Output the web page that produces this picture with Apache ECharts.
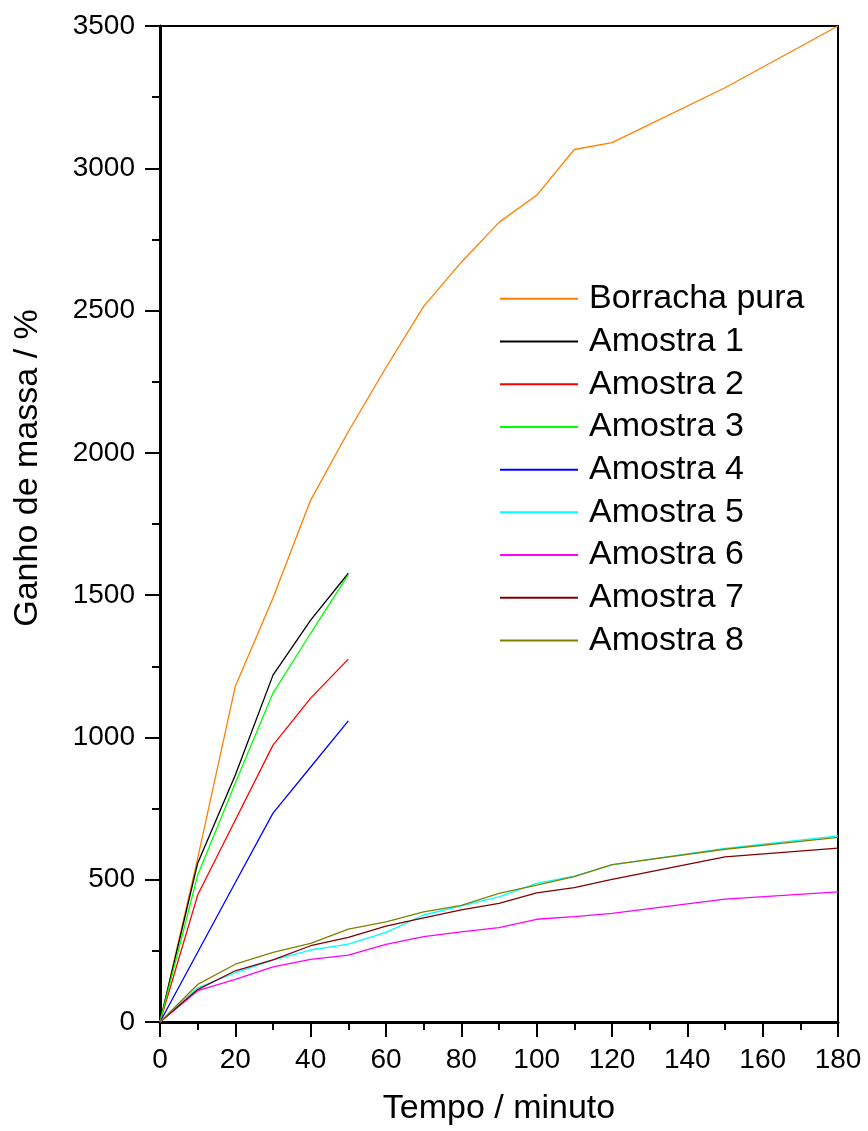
<!DOCTYPE html>
<html><head><meta charset="utf-8">
<script src="https://cdn.jsdelivr.net/npm/echarts@6/dist/echarts.min.js"></script>
<style>html,body{margin:0;padding:0;background:#fff}#c{width:868px;height:1131px}</style>
</head><body><div id="c"></div>
<script>
const tShort = [0,10,20,30,40,50];
const tLong = [0,10,20,30,40,50,60,70,80,90,100,110,120,150,180];
const names = ['Borracha pura','Amostra 1','Amostra 2','Amostra 3','Amostra 4','Amostra 5','Amostra 6','Amostra 7','Amostra 8'];
const colors = ['#FF8000','#000000','#FF0000','#00FF00','#0000FF','#00FFFF','#FF00FF','#800000','#808000'];
const borracha = [0,575,1180,1490,1834,2075,2300,2515,2670,2810,2905,3066,3090,3283,3500];
const amostra1 = [0,558,868,1219,1412,1577];
const amostra2 = [0,446,710,973,1138,1275];
const amostra3 = [0,516,840,1156,1366,1572];
const amostra4 = [0,245,490,734,896,1058];
const amostra5 = [0,120,173,218,253,274,315,376,408,440,487,513,552,610,654];
const amostra6 = [0,110,150,194,220,235,273,300,317,332,361,370,382,432,457];
const amostra7 = [0,114,180,218,268,297,337,366,394,417,454,472,501,580,611];
const amostra8 = [0,132,203,245,276,326,352,387,410,452,481,511,553,607,649];
const values = [borracha,amostra1,amostra2,amostra3,amostra4,amostra5,amostra6,amostra7,amostra8];
const xTickLabels = ['0','20','40','60','80','100','120','140','160','180'];
const yTickLabels = ['0','500','1000','1500','2000','2500','3000','3500'];
const xTitle = 'Tempo / minuto';
const yTitle = 'Ganho de massa / %';

const series = values.map((v,i)=>({
  name: names[i], type:'line', symbol:'none', animation:false,
  data: v.map((y,j)=>[(v.length===tShort.length?tShort:tLong)[j], y]),
  lineStyle:{color:colors[i], width:1.3}, itemStyle:{color:colors[i]}
}));
const font = 'Liberation Sans, Arial, sans-serif';
const chart = echarts.init(document.getElementById('c'));
chart.setOption({
  animation:false,
  grid:{left:160,right:30,top:26,bottom:109,show:true,borderColor:'#000',borderWidth:2,backgroundColor:'transparent'},
  legend:{show:true,orient:'vertical',left:495,top:272.5,itemWidth:78,itemHeight:2,itemGap:0,icon:'rect',
    textStyle:{fontFamily:font,fontSize:34,color:'#000',lineHeight:42.7,padding:[0,0,0,6]},
    data:names},
  graphic:[{type:'text',x:28,y:468,rotation:Math.PI/2,
    style:{text:yTitle,font:'34px '+font,fill:'#000',textAlign:'center',textVerticalAlign:'middle'}}],
  xAxis:{type:'value',min:0,max:180,interval:20,
    name:xTitle,nameLocation:'middle',nameGap:70,
    nameTextStyle:{fontFamily:font,fontSize:34,color:'#000'},
    axisLine:{lineStyle:{color:'#000',width:3}},
    axisTick:{inside:false,length:15,lineStyle:{color:'#000',width:2}},
    minorTick:{show:true,splitNumber:2,length:8,lineStyle:{color:'#000',width:2}},
    splitLine:{show:false},
    axisLabel:{fontFamily:font,fontSize:28,color:'#000',margin:24,
      formatter:(v)=>xTickLabels[Math.round(v/20)]}},
  yAxis:{type:'value',min:0,max:3500,interval:500,
    axisLine:{lineStyle:{color:'#000',width:3}},
    axisTick:{inside:false,length:15,lineStyle:{color:'#000',width:2}},
    minorTick:{show:true,splitNumber:2,length:8,lineStyle:{color:'#000',width:2}},
    splitLine:{show:false},
    axisLabel:{fontFamily:font,fontSize:28,color:'#000',margin:25,
      formatter:(v)=>yTickLabels[Math.round(v/500)]}},
  series:series
});
</script></body></html>
